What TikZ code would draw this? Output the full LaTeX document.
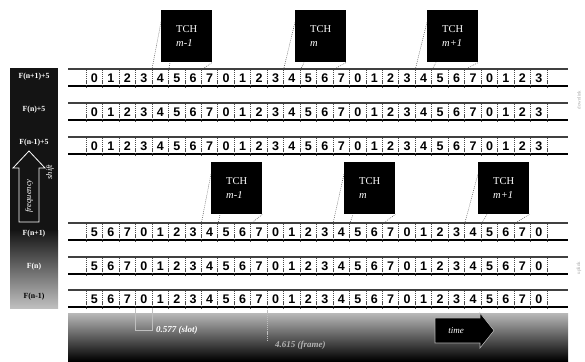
\documentclass[tikz,border=0pt]{standalone}
\usepackage{fontspec}
\setmainfont{Liberation Serif}
\newfontfamily\digitfont{Liberation Sans}
\begin{document}
\begin{tikzpicture}[x=1pt,y=-1pt,
  cell/.style={minimum width=16.46pt, minimum height=17pt, inner sep=0pt,
    font=\digitfont\bfseries\fontsize{12.5}{12.5}\selectfont, anchor=north west},
  sep/.style={gray!60!black, line width=0.5pt, dash pattern=on 1.2pt off 0.9pt},
  topline/.style={gray!50!black, line width=1.8pt},
  botline/.style={black, line width=1.2pt},
  tch/.style={fill=black, minimum width=51pt, minimum height=52pt, anchor=north west,
    inner sep=0pt, text=white, align=left, font=\fontsize{10.5}{13.5}\selectfont},
  zoomline/.style={gray!60!black, line width=0.5pt, dash pattern=on 0.8pt off 1.2pt},
  lbl/.style={text=white, font=\bfseries\fontsize{7.8}{7.8}\selectfont},
  bandtxt/.style={text=white, font=\bfseries\itshape\fontsize{9}{9}\selectfont, anchor=west, inner sep=1pt},
  sidetxt/.style={text=gray!70, font=\fontsize{5}{5}\selectfont, rotate=90}]
\useasboundingbox (0,0) rectangle (585,361);

% left strip
\fill[black!92] (10,68) rectangle (58,231);
\shade[top color=black!92, bottom color=gray!50] (10,230) rectangle (58,308);
% bottom band
\shade[top color=gray!55, middle color=black!88, bottom color=black] (68,313) rectangle (568,361);

% rows
\foreach \r/\y/\s in {1/69/0,2/103/0,3/137/0,4/223/5,5/257/5,6/290/5} {
  \draw[topline] (68,\y) -- (568,\y);
  \draw[botline] (68,\y+17) -- (568,\y+17);
  \foreach \i in {0,...,27} {
    \pgfmathtruncatemacro\d{mod(\i+\s,8)}
    \node[cell] (r\r c\i) at ({86+16.46*\i},\y+0.8) {\d};
    \draw[sep] (r\r c\i.north west) -- (r\r c\i.south west);
  }
  \draw[sep] (r\r c27.north east) -- (r\r c27.south east);
}

% TCH boxes
\node[tch] (b1) at (161,10) {TCH\\\textit{m-1}};
\node[tch] (b2) at (295,10) {TCH\\\textit{m}};
\node[tch] (b3) at (427,10) {TCH\\\textit{m+1}};
\node[tch] (b4) at (211,162) {TCH\\\textit{m-1}};
\node[tch] (b5) at (344,162) {TCH\\\textit{m}};
\node[tch] (b6) at (478,162) {TCH\\\textit{m+1}};

\foreach \b/\r/\c/\e in {b1/1/4/7,b2/1/12/15,b3/1/20/23,b4/4/7/10,b5/4/15/18,b6/4/23/26} {
  \draw[zoomline] (r\r c\c.north west) -- ([yshift=-12pt]\b.north west);
  \draw[zoomline] (r\r c\c.north east) -- ([xshift=9pt]\b.south west);
  \draw[zoomline] (r\r c\e.north west) -- (\b.south east);
}

% left labels
\node[lbl] (l1) at (34,77) {F(n+1)+5};
\node[lbl] (l2) at (34,110) {F(n)+5};
\node[lbl] (l3) at (34,143) {F(n-1)+5};
\node[lbl] (l4) at (34,234) {F(n+1)};
\node[lbl] (l5) at (34,267) {F(n)};
\node[lbl, text=black] (l6) at (34,297) {F(n-1)};

% frequency shift arrow
\draw[white, line width=0.8pt] (29,151) -- (45,168) -- (39,168) -- (39,222) -- (19,222) -- (19,168) -- (13,168) -- cycle;
\node[lbl, rotate=90, font=\itshape\fontsize{8.5}{8.5}\selectfont] (fq) at (29,196) {frequency};
\node[lbl, rotate=90, font=\itshape\fontsize{8.5}{8.5}\selectfont] (sh) at (50,172) {shift};

% slot / frame marks
\coordinate (s1) at (r6c3.south west |- 0,330);
\coordinate (s2) at (r6c3.south east |- 0,330);
\coordinate (f1) at (r6c11.south west |- 0,340);
\draw[gray!50, line width=0.6pt] (r6c3.south west) -- (s1) -- (s2) -- (r6c3.south east);
\draw[gray!50, line width=0.6pt, dash pattern=on 1.2pt off 0.9pt] (r6c11.south west) -- (f1);
\node[bandtxt] (slot) at (155,330) {0.577 (slot)};
\node[bandtxt, text=gray!60] (frame) at (274,345) {4.615 (frame)};

% time arrow
\draw[gray!60, fill=black, line width=0.6pt] (435,318) -- (480,318) -- (480,313) -- (494,330.5) -- (480,348) -- (480,343) -- (435,343) -- cycle;
\node[text=white, font=\itshape\fontsize{9}{9}\selectfont] (time) at (456,330.5) {time};

% side labels
\node[sidetxt] (dl) at (579,100) {downlink};
\node[sidetxt] (ul) at (579,268) {uplink};
\end{tikzpicture}
\end{document}
